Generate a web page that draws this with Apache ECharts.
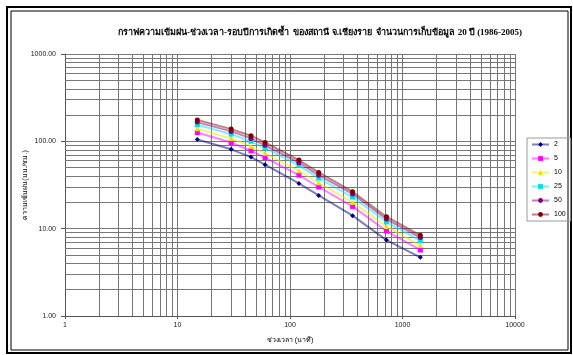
<!DOCTYPE html>
<html>
<head>
<meta charset="utf-8">
<script src="https://cdn.jsdelivr.net/npm/echarts@6/dist/echarts.min.js"></script>
<style>
  html, body { margin: 0; padding: 0; background: #fff; }
  #chart { width: 573px; height: 355px; }
</style>
</head>
<body>
<div id="chart"></div>
<script>
// ช่วงเวลา (นาที)
var durations = [15, 30, 45, 60, 120, 180, 360, 720, 1440];
// รอบปีการเกิดซ้ำ
var returnPeriods = ['2', '5', '10', '25', '50', '100'];
// ความเข้มฝน (มม./ชม.) ต่อรอบปี
var rp2   = [105, 81, 66, 54, 33, 24, 14.1, 7.4, 4.7];
var rp5   = [126, 97, 78, 65, 41, 30, 18, 9.4, 5.7];
var rp10  = [139, 108, 88, 73, 46, 33.5, 20, 10.6, 6.4];
var rp25  = [155, 121, 100, 84, 53, 38, 23, 12, 7.3];
var rp50  = [166, 130, 108, 90, 57, 41, 25, 12.9, 7.9];
var rp100 = [176, 138, 116, 97, 61, 44, 26.5, 13.7, 8.4];
var xTickLabels = [1, 10, 100, 1000, 10000];
var yTickLabels = [1, 10, 100, 1000];

var allSeries = [rp2, rp5, rp10, rp25, rp50, rp100];
var colors = ['#000080', '#ff00ff', '#e6e600', '#00e0e0', '#800080', '#800000'];
var symbols = ['diamond', 'rect', 'triangle', 'rect', 'circle', 'circle'];

// เส้นกริดย่อยแบบ log (2..9 ในแต่ละช่วง)
function minorValues(maxV) {
    var out = [];
    for (var d = 1; d < maxV; d *= 10) {
        for (var k = 2; k <= 10; k++) out.push(d * k);
    }
    return out;
}
var gridX = minorValues(10000);
var gridY = minorValues(1000);

var series = allSeries.map(function (vals, i) {
    return {
        name: returnPeriods[i],
        type: 'line',
        data: durations.map(function (d, j) { return [d, vals[j]]; }),
        symbol: symbols[i],
        symbolSize: 5,
        itemStyle: { color: colors[i] },
        lineStyle: { color: colors[i], width: 2, opacity: 0.5 },
        z: 5
    };
});

// ชุดช่วยสำหรับเส้นกริด
series.push({
    name: 'grid',
    type: 'line',
    data: [],
    silent: true,
    z: 1,
    markLine: {
        silent: true,
        symbol: 'none',
        animation: false,
        label: { show: false },
        lineStyle: { color: '#777', width: 1, type: 'solid' },
        data: gridX.map(function (v) { return { xAxis: v }; })
            .concat(gridY.map(function (v) { return { yAxis: v }; }))
    }
});

var myChart = echarts.init(document.getElementById('chart'));
var options = {
    animation: false,
    backgroundColor: '#fff',
    title: {
        text: 'กราฟความเข้มฝน-ช่วงเวลา-รอบปีการเกิดซ้ำ  ของสถานี จ.เชียงราย  จำนวนการเก็บข้อมูล 20 ปี (1986-2005)',
        left: 315,
        top: 23,
        textAlign: 'center',
        textStyle: {
            fontFamily: 'Liberation Serif, serif',
            fontSize: 9,
            fontWeight: 'bold',
            color: '#000'
        }
    },
    legend: {
        orient: 'vertical',
        left: 527,
        top: 138,
        data: returnPeriods,
        itemWidth: 17,
        itemHeight: 6,
        itemGap: 7,
        padding: [3, 5, 3, 4],
        borderColor: '#999',
        borderWidth: 1,
        textStyle: { fontSize: 7, color: '#000', fontFamily: 'Arial, Liberation Sans, sans-serif' }
    },
    grid: {
        left: 65,
        right: 58,
        top: 54,
        bottom: 39
    },
    xAxis: {
        type: 'log',
        logBase: 10,
        min: 1,
        max: 10000,
        name: 'ช่วงเวลา (นาที)',
        nameLocation: 'middle',
        nameGap: 21,
        nameTextStyle: { fontSize: 7, color: '#000' },
        axisLine: { show: true, lineStyle: { color: '#555' } },
        axisTick: { show: true, length: 3, lineStyle: { color: '#555' } },
        axisLabel: {
            fontSize: 7,
            color: '#222',
            margin: 6,
            formatter: function (v) { return xTickLabels.indexOf(v) >= 0 ? String(v) : ''; }
        },
        splitLine: { show: false }
    },
    yAxis: {
        type: 'log',
        logBase: 10,
        min: 1,
        max: 1000,
        name: 'ความเข้มฝน(มม./ชม.)',
        nameLocation: 'middle',
        nameGap: 36,
        nameMoveOverlap: false,
        nameTextStyle: { fontSize: 7, color: '#000' },
        axisLine: { show: true, lineStyle: { color: '#555' } },
        axisTick: { show: true, length: 4, lineStyle: { color: '#555' } },
        axisLabel: {
            fontSize: 7,
            color: '#222',
            margin: 9,
            formatter: function (v) { return yTickLabels.indexOf(v) >= 0 ? v.toFixed(2) : ''; }
        },
        splitLine: { show: false }
    },
    graphic: [
        { type: 'rect', shape: { x: 7, y: 7, width: 564, height: 346 }, style: { fill: 'none', stroke: '#000', lineWidth: 2 }, silent: true },
        { type: 'rect', shape: { x: 11, y: 11, width: 557, height: 339 }, style: { fill: 'none', stroke: '#000', lineWidth: 1 }, silent: true }
    ],
    series: series
};
myChart.setOption(options);
window.addEventListener('resize', myChart.resize);
</script>
</body>
</html>
